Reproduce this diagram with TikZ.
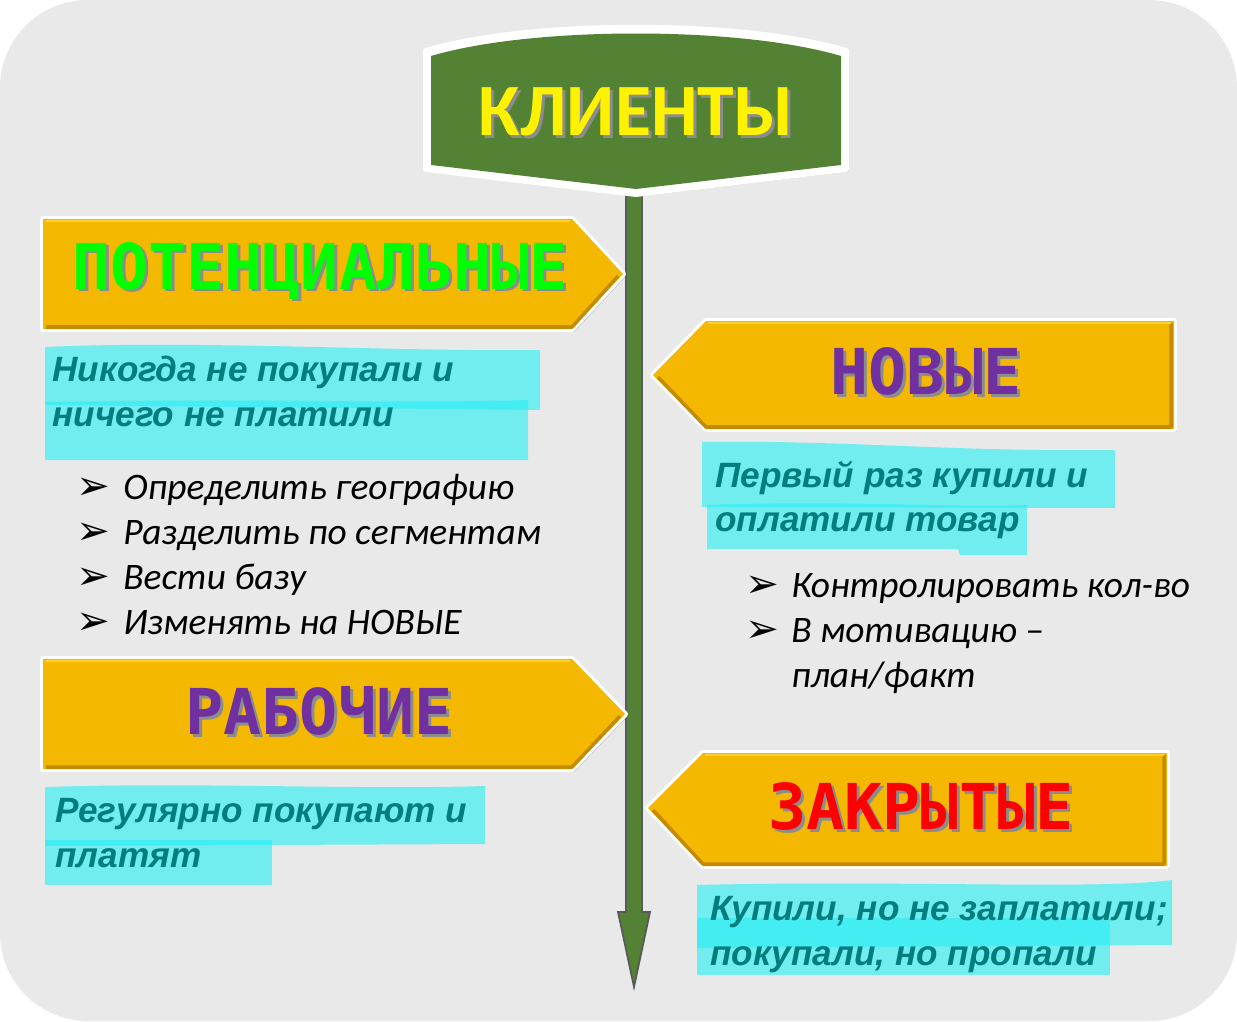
\documentclass[tikz,border=0pt]{standalone}
\usepackage{fontspec}
\setmainfont{Carlito}
\newfontfamily\notefont{Liberation Sans}
\newfontfamily\signfont{DejaVu Sans Mono}
\newfontfamily\tipfont{DejaVu Sans}
\usetikzlibrary{shadows}
\definecolor{wallgray}{RGB}{233,233,233}
\definecolor{postgreen}{RGB}{84,130,53}
\definecolor{postline}{RGB}{89,89,89}
\definecolor{signgold}{RGB}{245,184,0}
\definecolor{golddark}{RGB}{196,138,0}
\definecolor{goldlight}{RGB}{255,208,40}
\definecolor{notecolor}{RGB}{0,125,125}
\definecolor{markcyan}{RGB}{40,238,244}
\definecolor{signpurple}{RGB}{112,48,160}
\definecolor{signred}{RGB}{255,0,0}
\definecolor{signlime}{RGB}{0,255,0}
\newcommand{\shaded}[1]{\makebox[0pt][l]{\kern1.7pt\raisebox{-1.7pt}{\textcolor{black!45}{#1}}}#1}
\tikzset{board/.style={fill=white, draw=white, line width=3.4pt, line join=round, drop shadow={opacity=.35, shadow xshift=1.5pt, shadow yshift=-1.5pt}},
  gold/.style={fill=signgold},
  lowedge/.style={draw=golddark, line width=2pt, line join=round},
  topedge/.style={draw=goldlight, line width=1.5pt},
  signlabel/.style={font=\signfont\bfseries\fontsize{36}{36}\selectfont, inner sep=0pt},
  note/.style={font=\notefont\bfseries\itshape\fontsize{20}{24}\selectfont, text=notecolor, anchor=base west, inner sep=0pt},
  marker/.style={fill=markcyan, opacity=.62},
  item/.style={font=\itshape\fontsize{21.3}{24}\selectfont, anchor=base west, inner sep=0pt},
  tip/.style={font=\tipfont\fontsize{23}{24}\selectfont, anchor=base west, inner sep=0pt}}
\begin{document}
\begin{tikzpicture}[x=0.02cm, y=-0.02cm]
  \useasboundingbox (0,0) rectangle (1237,1021);
  \fill[white] (0,0) rectangle (1237,1021);
  \fill[wallgray, rounded corners=50pt] (0,0) rectangle (1237,1021);

  % post
  \coordinate (post top) at (634,194);
  \coordinate (post end) at (634,987);
  \filldraw[fill=postgreen, draw=postline, line width=1pt] (post top) ++(-8,0) -- ++(0,718) -- ++(-8,0) -- (post end) -- ++(16,-75) -- ++(-8,0) -- ++(0,-718) -- cycle;

  % title board
  \path[board] (426,51) .. controls (530,20) and (742,20) .. (846,51) -- (846,169) -- (636,194) -- (426,169) -- cycle;
  \fill[postgreen] (431,56) .. controls (532,26) and (740,26) .. (841,56) -- (841,165) -- (636,189) -- (431,165) -- cycle;
  \node[text=yellow, font=\bfseries\fontsize{42}{42}\selectfont] (title) at (636,113) {\shaded{КЛИЕНТЫ}};

  % left boards
  \path[board] (43,219) -- (572,219) -- (623,274) -- (572,329) -- (43,329) -- cycle;
  \path[gold] (43,219) -- (572,219) -- (623,274) -- (572,329) -- (43,329) -- cycle;
  \draw[lowedge] (46,327) -- (572,327) -- (618,276);
  \draw[topedge] (46,221) -- (570,221);
  \node[signlabel, text=signlime] (potential) at (320,272) {\shaded{ПОТЕНЦИАЛЬНЫЕ}};

  \path[board] (43,659) -- (572,659) -- (625,714) -- (572,769) -- (43,769) -- cycle;
  \path[gold] (43,659) -- (572,659) -- (625,714) -- (572,769) -- (43,769) -- cycle;
  \draw[lowedge] (46,767) -- (572,767) -- (620,716);
  \draw[topedge] (46,661) -- (570,661);
  \node[signlabel, text=signpurple] (working) at (319,712) {\shaded{РАБОЧИЕ}};

  % right boards
  \path[board] (653,375) -- (706,321) -- (1174,321) -- (1174,429) -- (706,429) -- cycle;
  \path[gold] (653,375) -- (706,321) -- (1174,321) -- (1174,429) -- (706,429) -- cycle;
  \draw[lowedge] (658,377) -- (706,427) -- (1171,427) -- (1171,323);
  \draw[topedge] (708,323) -- (1171,323);
  \node[signlabel, text=signpurple] (new) at (926,373) {\shaded{НОВЫЕ}};

  \path[board] (648,808) -- (703,753) -- (1167,753) -- (1167,866) -- (703,866) -- cycle;
  \path[gold] (648,808) -- (703,753) -- (1167,753) -- (1167,866) -- (703,866) -- cycle;
  \draw[lowedge] (653,810) -- (703,864) -- (1164,864) -- (1164,755);
  \draw[topedge] (705,755) -- (1164,755);
  \node[signlabel, text=signred] (closed) at (921,808) {\shaded{ЗАКРЫТЫЕ}};

  % markers
  \fill[marker] (45,347) .. controls (200,340) and (400,352) .. (540,350) -- (540,410) -- (45,405) -- cycle;
  \fill[marker] (45,402) .. controls (250,398) and (400,404) .. (528,400) -- (528,460) -- (45,460) -- cycle;
  \fill[marker] (702,442) .. controls (850,440) and (950,452) .. (1115,450) -- (1115,508) -- (702,507) -- cycle;
  \fill[marker] (707,505) .. controls (850,500) and (950,508) .. (1027,505) -- (1027,555) -- (960,555) -- (958,549) -- (707,549) -- cycle;
  \fill[marker] (45,787) .. controls (200,782) and (350,790) .. (485,786) -- (485,844) -- (45,846) -- cycle;
  \fill[marker] (45,840) -- (272,840) -- (272,885) -- (45,885) -- cycle;
  \fill[marker] (697,885) .. controls (900,880) and (1100,890) .. (1172,880) -- (1172,945) -- (697,948) -- cycle;
  \fill[marker] (697,918) -- (1110,918) -- (1110,975) -- (697,975) -- cycle;

  % notes
  \node[note] (potential note) at (52,381) {Никогда не покупали и};
  \node[note] (potential note2) at (52,426) {ничего не платили};
  \node[note] (new note) at (715,487) {Первый раз купили и};
  \node[note] (new note2) at (715,531) {оплатили товар};
  \node[note] (working note) at (55,822) {Регулярно покупают и};
  \node[note] (working note2) at (55,867) {платят};
  \node[note] (closed note) at (710,920) {Купили, но не заплатили;};
  \node[note] (closed note2) at (710,965) {покупали, но пропали};

  % lists
  \node[tip] (tip1) at (76,499) {➢};
  \node[item] (item1) at (123,499) {Определить географию};
  \node[tip] (tip2) at (76,544) {➢};
  \node[item] (item2) at (123,544) {Разделить по сегментам};
  \node[tip] (tip3) at (76,589) {➢};
  \node[item] (item3) at (123,589) {Вести базу};
  \node[tip] (tip4) at (76,634) {➢};
  \node[item] (item4) at (123,634) {Изменять на НОВЫЕ};
  \node[tip] (tip5) at (745,597) {➢};
  \node[item] (item5) at (791,597) {Контролировать кол-во};
  \node[tip] (tip6) at (745,642) {➢};
  \node[item] (item6) at (791,642) {В мотивацию --};
  \node[item] (item7) at (791,687) {план/факт};
\end{tikzpicture}
\end{document}
